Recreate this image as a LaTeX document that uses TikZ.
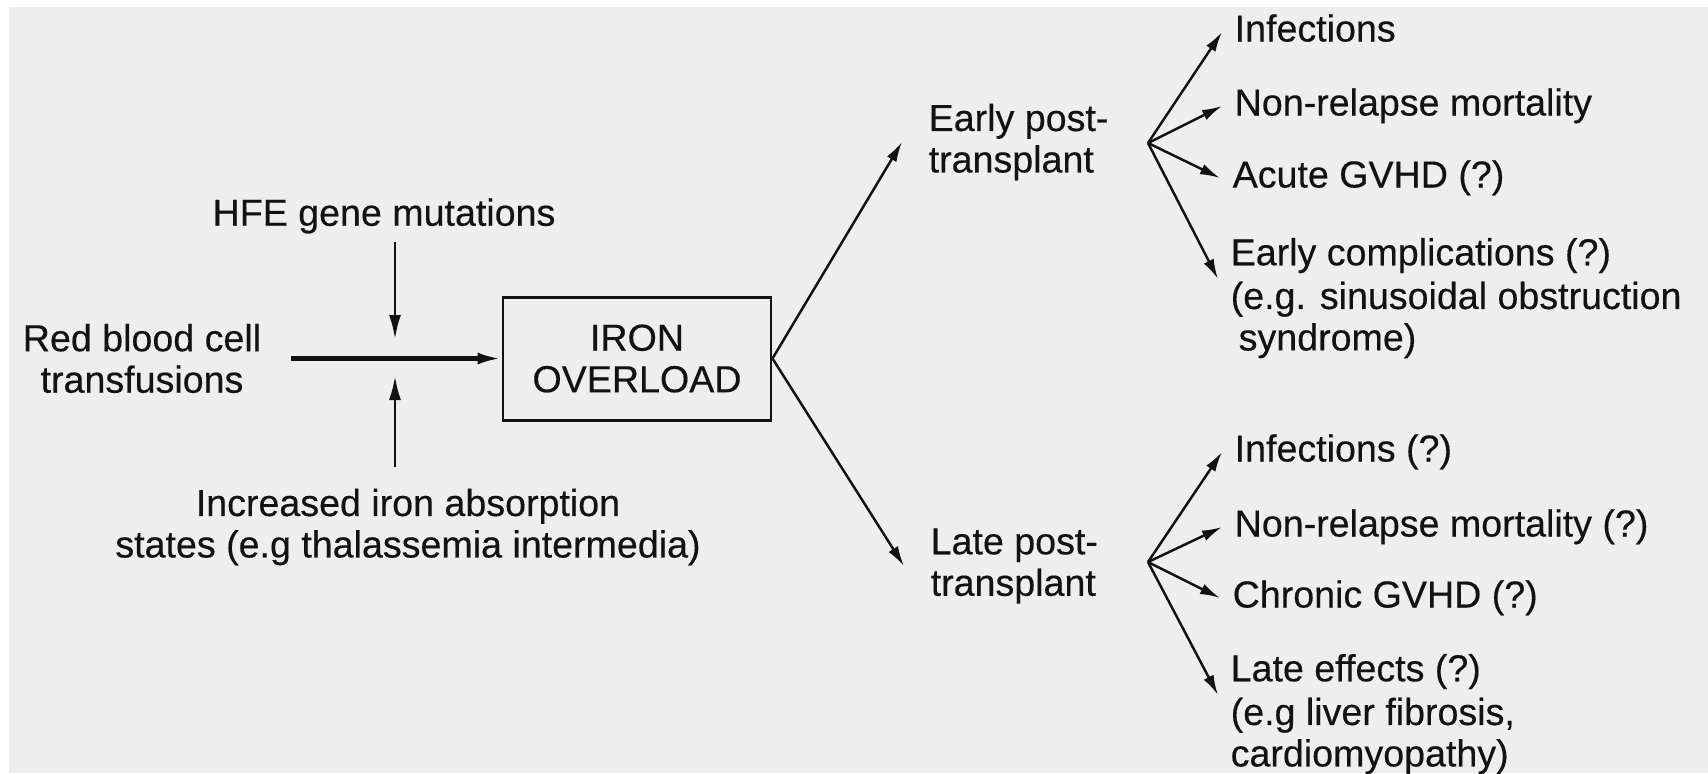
\documentclass[tikz,border=0pt]{standalone}
\usepackage{fontspec}
\setmainfont{Liberation Sans}
\newfontfamily\chartfont{Liberation Sans}[FakeBold=0.35]
\usetikzlibrary{calc,arrows.meta}
\definecolor{panelGray}{RGB}{238,238,238}
\definecolor{inkBlack}{RGB}{18,18,18}

\begin{document}
\begin{tikzpicture}[x=1cm,y=1cm,
  txt/.style={text=inkBlack,font=\chartfont\fontsize{10.7}{11.8}\selectfont,inner xsep=0.12cm,inner ysep=0.05cm},
  item/.style={txt,anchor=west,text height=0.27cm,text depth=0.08cm},
  note/.style={txt,anchor=north west,align=left,inner ysep=0.02cm},
  arr/.style={draw=inkBlack,line width=0.75pt,-{Latex[length=0.24cm,width=0.12cm]}},
  fan/.style={draw=inkBlack,line width=0.7pt,-{Latex[length=0.2cm,width=0.11cm]}}]
\path[use as bounding box] (0,0) rectangle (17.08,-7.73);
\fill[white] (0,0) rectangle (17.08,-7.73);
\fill[panelGray] (0.09,-0.07) rectangle (17.08,-7.73);

% what feeds the overload
\node[txt,align=center] (rbc) at (1.42,-3.585) {Red blood cell\\transfusions};
\node[txt] (hfe) at (3.84,-2.16) {HFE gene mutations};
\node[txt,align=center] (absorb) at (4.08,-5.27) {Increased iron absorption\\states (e.g thalassemia intermedia)};
\node[txt,draw=inkBlack,line width=0.85pt,minimum width=2.68cm,minimum height=1.23cm,align=center] (iron) at (6.37,-3.585) {IRON\\OVERLOAD};

\coordinate (hfetip) at (3.95,-3.39);
\coordinate (abstip) at (3.95,-3.76);
\draw[arr,line width=1.2pt,shorten <=0.17cm] (rbc.east) -- (iron.west);
\draw[arr,shorten <=0.03cm] (hfe.south -| hfetip) -- (hfetip);
\draw[arr,shorten <=0.16cm] (absorb.north -| abstip) -- (abstip);

% the two periods after transplant
\node[txt,anchor=west,align=left,inner xsep=0.26cm] (early) at (9.02,-1.42) {Early post-\\transplant};
\node[txt,anchor=west,align=left,inner xsep=0.26cm] (late) at (9.04,-5.66) {Late post-\\transplant};
\draw[fan] (iron.east) -- (early.west);
\draw[fan] (iron.east) -- (late.west);

% early outcomes
\coordinate (earlyfork) at (11.48,-1.43);
\node[item] (einf) at (12.22,-0.32) {Infections};
\node[item] (enrm) at (12.22,-1.06) {Non-relapse mortality};
\node[item] (egvhd) at (12.20,-1.78) {Acute GVHD (?)};
\node[item,anchor=south west] (ecomp) at (12.18,-2.79) {Early complications (?)};
\node[note] (ecompx) at (ecomp.south west) {(e.g. sinusoidal obstruction\\\hspace{0.08cm}syndrome)};
\foreach \n in {einf,enrm,egvhd}
  \draw[fan] (earlyfork) -- (\n.west);
\draw[fan] (earlyfork) -- (ecomp.south west);

% late outcomes
\coordinate (latefork) at (11.48,-5.62);
\node[item] (linf) at (12.22,-4.52) {Infections (?)};
\node[item] (lnrm) at (12.22,-5.27) {Non-relapse mortality (?)};
\node[item] (lgvhd) at (12.20,-5.98) {Chronic GVHD (?)};
\node[item,anchor=south west] (leff) at (12.18,-6.95) {Late effects (?)};
\node[note] (leffx) at (leff.south west) {(e.g liver fibrosis,\\cardiomyopathy)};
\foreach \n in {linf,lnrm,lgvhd}
  \draw[fan] (latefork) -- (\n.west);
\draw[fan] (latefork) -- (leff.south west);
\end{tikzpicture}
\end{document}
